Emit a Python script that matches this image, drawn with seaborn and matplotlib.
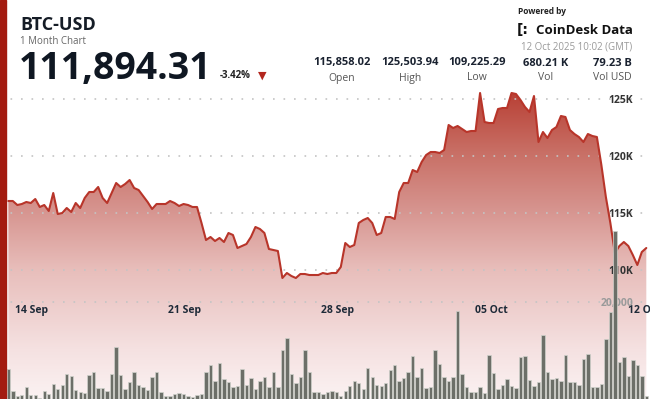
import numpy as np
import pandas as pd
import seaborn as sns
import matplotlib.pyplot as plt
import matplotlib.dates as mdates
from matplotlib.colors import LinearSegmentedColormap
from matplotlib.patches import Rectangle

# BTC-USD, 1 month, one point every ~5h
price = [
    116065, 116065, 115714, 115801, 115977, 115889, 116241, 115538, 115714, 115186,
    116768, 114922, 115010, 115450, 115098, 115889, 115450, 116329, 116856, 116856,
    117296, 116329, 115889, 116768, 117647, 117296, 117559, 117911, 117208, 117032,
    116505, 115977, 115362, 115801, 115801, 115801, 116065, 115889, 115626, 115801,
    115714, 115538, 115538, 114131, 112637, 112901, 112549, 112813, 112461, 113252,
    113077, 111934, 112110, 112285, 112901, 113780, 113604, 113252, 111846, 111758,
    111670, 109297, 109736, 109473, 109297, 109648, 109648, 109560, 109560, 109560,
    109736, 109648, 109736, 109736, 110264, 112373, 112022, 112198, 114131, 114395,
    114571, 114131, 113077, 113252, 114659, 114659, 114483, 116856, 117647, 117647,
    118790, 118614, 119493, 120109, 120372, 120372, 120284, 120548, 122746, 122482,
    122658, 122394, 122130, 122218, 122218, 125558, 123009, 122922, 122922, 124152,
    124240, 124240, 125558, 125470, 124943, 124328, 123888, 125295, 121251, 122130,
    121603, 122306, 122570, 123537, 123449, 122306, 121954, 121691, 121251, 121954,
    121779, 121691, 119230, 116417, 114131, 111494, 112110, 112461, 112110, 111319,
    110440, 111582, 111934]

volume = [
    6180, 1650, 620, 820, 2470, 820, 820, 210, 1650, 1030,
    3090, 2060, 2880, 5150, 4740, 1850, 1440, 1240, 4940, 5560,
    2270, 2270, 1650, 5150, 10710, 4940, 2060, 3500, 5560, 2880,
    2470, 1850, 4530, 5560, 1440, 620, 620, 1030, 1240, 1030,
    620, 410, 820, 1030, 5560, 7000, 3710, 7420, 4120, 3500,
    2470, 2680, 6180, 2880, 4330, 2060, 3710, 4530, 2470, 5560,
    2470, 10090, 12570, 5150, 3300, 4530, 10090, 5560, 1440, 1440,
    1030,
    1440, 1650, 1440, 620, 1650, 2680, 3710, 3300, 2060, 6390,
    4530, 2880, 2680, 3300, 5970, 7000, 3710, 4330, 5560, 8860,
    4530, 6390, 2270, 2470, 10090, 7210, 4530, 3710, 4530, 18130,
    5150, 2470, 1440, 1440, 2470, 1240, 9060, 5360, 2060, 2880,
    4120, 2680, 2270, 8650, 8860, 3910, 2680, 3500, 13180, 5560,
    4120, 4330, 3710, 9060, 3500, 3500, 2880, 8240, 9270, 2470,
    2470, 3090, 12360, 17920, 34610, 7620, 8650, 4740, 8030, 7000,
    4740, 620]

times = pd.date_range("2025-09-12 22:00", periods=len(price), freq="296min")

date_ticks = ["2025-09-14", "2025-09-21", "2025-09-28", "2025-10-05", "2025-10-12"]
date_labels = ["14 Sep", "21 Sep", "28 Sep", "05 Oct", "12 Oct"]
price_ticks = [110000, 115000, 120000, 125000]
price_labels = ["110K", "115K", "120K", "125K"]
vol_ticks = [20000]
vol_labels = ["20,000"]

stat_values = ["115,858.02", "125,503.94", "109,225.29", "680.21 K", "79.23 B"]
stat_names = ["Open", "High", "Low", "Vol", "Vol USD"]

sns.set_style("white")
plt.rcParams["font.family"] = ["Open Sans", "DejaVu Sans"]

W, H = 650, 399
fig = plt.figure(figsize=(6.5, 3.99), dpi=100)
ax = fig.add_axes([0, 0, 1, 311 / H])
ax2 = ax.twinx()

x0 = pd.Timestamp("2025-09-14") - pd.Timedelta(days=32 / 21.86)
x1 = pd.Timestamp("2025-10-12") + pd.Timedelta(days=6 / 21.86)
ylo, yhi = 98661, 125998
ax.set_xlim(x0, x1)
ax.set_ylim(ylo, yhi)

# gradient area under the price line
cmap = LinearSegmentedColormap.from_list("area", [
    (0.0, "#b73d32"), (0.2, "#c86e64"), (0.4, "#d79691"),
    (0.585, "#e8bebb"), (0.84, "#f5e1e1"), (1.0, "#fbf2f2")])
poly = ax.fill_between(times, price, ylo, facecolor="none", edgecolor="none")
grad = np.linspace(0, 1, 256).reshape(-1, 1)
im = ax.imshow(grad, cmap=cmap, aspect="auto", origin="upper",
               extent=[mdates.date2num(x0), mdates.date2num(x1), ylo, yhi], zorder=1)
im.set_clip_path(poly.get_paths()[0], transform=ax.transData)

sns.lineplot(x=times, y=price, ax=ax, color="#b8352a", linewidth=1.5, zorder=3)

ax.set_axisbelow(False)
ax.grid(axis="y", color="#c4c4c4", linestyle=(0, (1, 5.3)), linewidth=1.2)
ax.grid(axis="x", visible=False)
ax.yaxis.tick_right()
ax.set_yticks(price_ticks, price_labels, ha="right", fontweight="bold", color="#333333")
ax.tick_params(axis="y", length=0, pad=-12, labelsize=7.5)
ax.set_xticks(pd.to_datetime(date_ticks), date_labels, fontweight="bold", color="#1e2a38")
ax.tick_params(axis="x", length=0, pad=-68, labelsize=7.5)
ax.set_xlabel("")
ax.set_ylabel("")

# volume bars
ax2.bar(times, volume, width=3.4 / 21.86, color="#6c6f68", edgecolor="#d0d2cc", linewidth=0.5)
ax2.set_ylim(0, 64124)
ax2.set_yticks(vol_ticks, vol_labels, ha="right", fontweight="bold", color="#9a9a9a")
ax2.tick_params(axis="y", length=0, pad=-12, labelsize=7.5)
ax2.grid(axis="y", color="#c4c4c4", linestyle=(0, (1, 5.3)), linewidth=1.2)
ax2.set_xlim(x0, x1)

for a in (ax, ax2):
    for s in a.spines.values():
        s.set_visible(False)


def ft(x, y, s, **kw):
    fig.text(x / W, 1 - y / H, s, **kw)


ft(20, 25, "BTC-USD", fontsize=13, fontweight="bold", color="#151c26", va="center")
ft(20, 41, "1 Month Chart", fontsize=7, color="#666666", va="center")
ft(19, 69, "111,894.31", fontsize=27, fontweight="bold", color="#0f1722", va="center")
ft(220, 76, "-3.42%", fontsize=7, fontweight="bold", color="#222222", va="center")
ft(258, 76, "▼", fontsize=8, color="#b3261e", va="center")

stat_x = [342, 410, 477, 546, 612]
for sx, v, n in zip(stat_x, stat_values, stat_names):
    ft(sx, 63, v, fontsize=8, fontweight="bold", color="#1a2230", ha="center", va="center")
    ft(sx, 78, n, fontsize=7.5, color="#555555", ha="center", va="center")

ft(518, 11, "Powered by", fontsize=6, fontweight="bold", color="#222222", va="center")
ft(517, 30, "[:", fontsize=10, fontweight="bold", color="#111111", va="center",
   family="DejaVu Sans")
ft(536, 30, "CoinDesk Data", fontsize=9.5, fontweight="bold", color="#111111", va="center")
ft(632, 47, "12 Oct 2025 10:02 (GMT)", fontsize=7, color="#9a9a9a", ha="right", va="center")

fig.add_artist(Rectangle((0, 0), 6 / W, 1, transform=fig.transFigure,
                         color="#a31b10", zorder=10))

fig.savefig("out.png", dpi=100)
